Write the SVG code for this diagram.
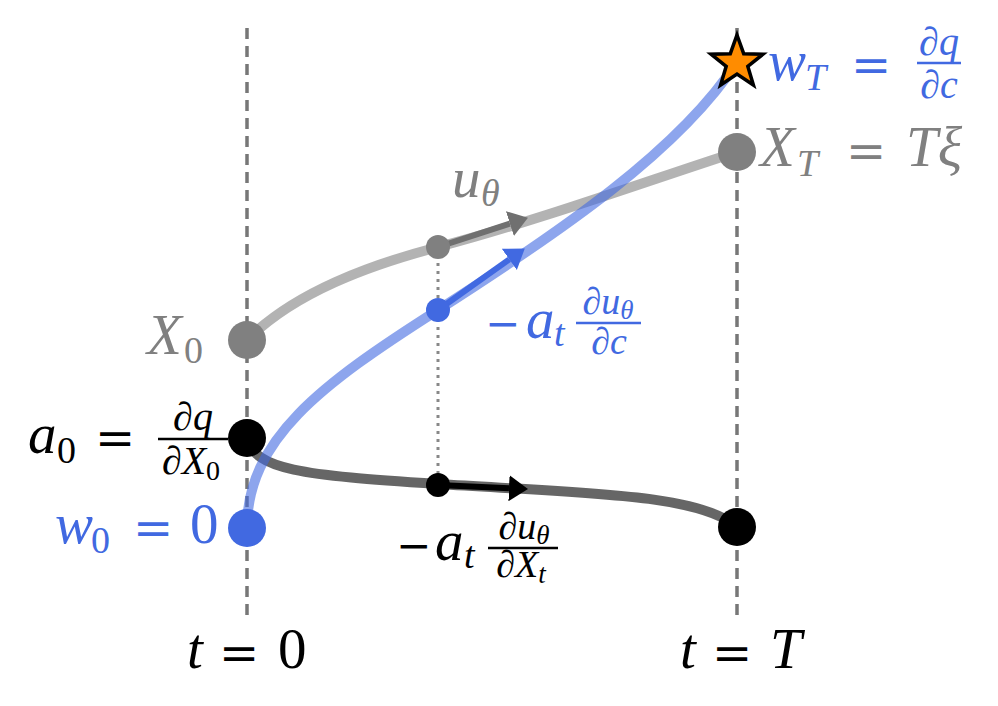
<svg xmlns="http://www.w3.org/2000/svg" width="998" height="706" viewBox="0 0 998 706">
<style>
.blue{fill:#4169e1}
.gray{fill:#808080}
.black{fill:#000}
.guide{stroke:#777;stroke-width:3.5;stroke-dasharray:11 7;fill:none}
.curve{fill:none;stroke-width:10;stroke-linecap:round}
.fl{stroke-width:2.5}
</style>
<defs>
<marker id="ah-gray" markerUnits="userSpaceOnUse" markerWidth="20" markerHeight="26" refX="0" refY="13" orient="auto"><path d="M0,0 L19,13 L0,26 z" fill="#707070"/></marker>
<marker id="ah-blue" markerUnits="userSpaceOnUse" markerWidth="20" markerHeight="26" refX="0" refY="13" orient="auto"><path d="M0,0 L19,13 L0,26 z" fill="#4169e1"/></marker>
<marker id="ah-black" markerUnits="userSpaceOnUse" markerWidth="20" markerHeight="26" refX="0" refY="13" orient="auto"><path d="M0,0 L19,13 L0,26 z" fill="#000"/></marker>
</defs>
<rect width="998" height="706" fill="#fff"/>

<g id="guides">
<line class="guide" x1="247" y1="28" x2="247" y2="616"/>
<line class="guide" x1="737" y1="28" x2="737" y2="616"/>
<line x1="438" y1="247" x2="438" y2="485" stroke="#888" stroke-width="3" stroke-dasharray="3 5"/>
</g>

<g id="connectors">
<path class="curve" d="M247,340 C295,292 370,265 438,247 C540,220 650,180 737,152" stroke="#808080" stroke-opacity="0.6"/>
<path class="curve" d="M247,438 C255,470 300,475 438,484 C600,494 700,495 737,527" stroke="#000" stroke-opacity="0.6"/>
<path class="curve" d="M247,528 C247,440 320,385 438,310 C560,232 680,150 737,62" stroke="#4169e1" stroke-opacity="0.6"/>
<line x1="438" y1="247" x2="509.9" y2="223.6" stroke="#707070" stroke-width="6" marker-end="url(#ah-gray)"/>
<line x1="438" y1="310" x2="509.3" y2="259.4" stroke="#4169e1" stroke-width="6" marker-end="url(#ah-blue)"/>
<line x1="438" y1="485" x2="509" y2="488.2" stroke="#000" stroke-width="6" marker-end="url(#ah-black)"/>
</g>

<g font-family="Liberation Serif, Times New Roman, serif" font-style="italic">

<g id="node-X0">
<circle cx="247" cy="340" r="19" fill="#808080"/>
<text class="gray" font-size="57" x="147" y="354">X</text>
<text class="gray" font-size="38" font-style="normal" x="184" y="363">0</text>
</g>

<g id="node-XT">
<circle cx="737" cy="152" r="19" fill="#808080"/>
<text class="gray" font-size="57" x="760" y="166">X</text>
<text class="gray" font-size="38" x="797" y="176">T</text>
<text class="gray" font-family="DejaVu Serif, serif" font-style="normal" font-size="48" x="846" y="168">=</text>
<text class="gray" font-size="57" x="906" y="166">Tξ</text>
</g>

<g id="node-a0">
<circle cx="247" cy="438" r="19" fill="#000"/>
<text class="black" font-size="57" x="28" y="453">a</text>
<text class="black" font-size="38" font-style="normal" x="57" y="463">0</text>
<text class="black" font-family="DejaVu Serif, serif" font-style="normal" font-size="48" x="95" y="455">=</text>
<text class="black" font-size="40" x="193" y="430" text-anchor="middle">∂q</text>
<line class="fl" x1="158" y1="439" x2="228" y2="439" stroke="#000"/>
<text class="black" font-size="40" x="191" y="474" text-anchor="middle">∂X<tspan font-style="normal" font-size="28" dy="6">0</tspan></text>
</g>

<g id="node-w0">
<circle cx="247" cy="528" r="19" fill="#4169e1"/>
<text class="blue" font-size="57" x="55" y="543">w</text>
<text class="blue" font-size="38" font-style="normal" x="91" y="553">0</text>
<text class="blue" font-family="DejaVu Serif, serif" font-style="normal" font-size="48" x="133" y="545">=</text>
<text class="blue" font-size="57" font-style="normal" x="190" y="543">0</text>
</g>

<g id="node-aT">
<circle cx="737" cy="527" r="19" fill="#000"/>
</g>

<g id="node-wT">
<path d="M737,35 L743.7,53.7 L763,54.2 L747.8,66.3 L753.4,85 L737,74 L720.6,85 L726.2,66.3 L711,54.2 L730.3,53.7 Z" fill="#ff8c00" stroke="#000" stroke-width="3.5" stroke-linejoin="miter"/>
<text class="blue" font-size="57" x="768" y="80">w</text>
<text class="blue" font-size="38" x="805" y="90">T</text>
<text class="blue" font-family="DejaVu Serif, serif" font-style="normal" font-size="48" x="851" y="82">=</text>
<text class="blue" font-size="40" x="939" y="55" text-anchor="middle">∂q</text>
<line class="fl" x1="917" y1="63" x2="961" y2="63" stroke="#4169e1"/>
<text class="blue" font-size="40" x="939" y="98" text-anchor="middle">∂c</text>
</g>

<g id="node-u-gray">
<circle cx="438" cy="247" r="12" fill="#808080"/>
<text class="gray" font-size="57" x="452" y="197">u</text>
<text class="gray" font-size="38" x="481" y="206">θ</text>
</g>

<g id="node-w-blue">
<circle cx="438" cy="310" r="12" fill="#4169e1"/>
<text class="blue" font-family="DejaVu Serif, serif" font-style="normal" font-size="42" x="485" y="338">−</text>
<text class="blue" font-size="57" x="526" y="338">a</text>
<text class="blue" font-size="38" x="554" y="346">t</text>
<text class="blue" font-size="38" x="608" y="314" text-anchor="middle">∂u<tspan font-size="27" dy="5">θ</tspan></text>
<line class="fl" x1="576" y1="323" x2="641" y2="323" stroke="#4169e1"/>
<text class="blue" font-size="38" x="609" y="354" text-anchor="middle">∂c</text>
</g>

<g id="node-a-black">
<circle cx="438" cy="485" r="12" fill="#000"/>
<text class="black" font-family="DejaVu Serif, serif" font-style="normal" font-size="42" x="396" y="560">−</text>
<text class="black" font-size="57" x="435" y="560">a</text>
<text class="black" font-size="38" x="464" y="568">t</text>
<text class="black" font-size="38" x="524" y="539" text-anchor="middle">∂u<tspan font-size="27" dy="5">θ</tspan></text>
<line class="fl" x1="488" y1="548" x2="558" y2="548" stroke="#000"/>
<text class="black" font-size="38" x="521" y="577" text-anchor="middle">∂X<tspan font-size="27" dy="6">t</tspan></text>
</g>

<g id="axis-labels">
<text class="black" font-size="57" x="187" y="668">t</text>
<text class="black" font-family="DejaVu Serif, serif" font-style="normal" font-size="48" x="219" y="670">=</text>
<text class="black" font-size="57" font-style="normal" x="278" y="668">0</text>
<text class="black" font-size="57" x="680" y="668">t</text>
<text class="black" font-family="DejaVu Serif, serif" font-style="normal" font-size="48" x="712" y="670">=</text>
<text class="black" font-size="57" x="770" y="668">T</text>
</g>

</g>
</svg>
